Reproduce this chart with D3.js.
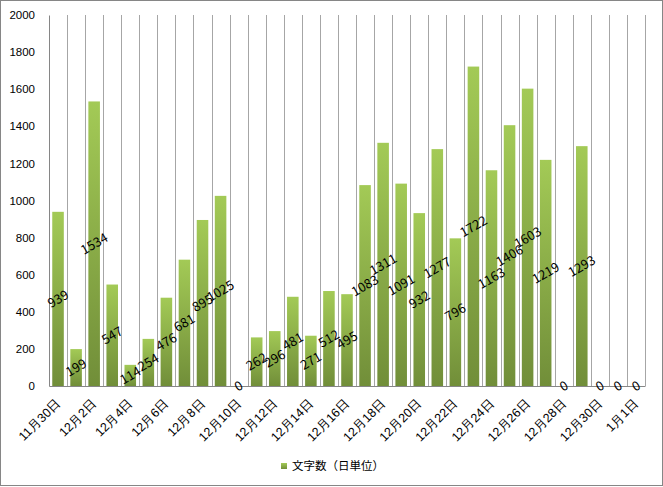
<!DOCTYPE html>
<html>
<head>
<meta charset="utf-8">
<script src="https://cdn.jsdelivr.net/npm/d3@7"></script>
<style>
  html, body { margin: 0; padding: 0; background: #fff; }
  svg { display: block; font-family: "Noto Sans CJK JP", "DejaVu Sans", sans-serif; }
</style>
</head>
<body>
<div id="chart"></div>
<script>
// categories (daily) and character counts
var days = ["11月30日","12月1日","12月2日","12月3日","12月4日","12月5日","12月6日","12月7日","12月8日","12月9日",
            "12月10日","12月11日","12月12日","12月13日","12月14日","12月15日","12月16日","12月17日","12月18日","12月19日",
            "12月20日","12月21日","12月22日","12月23日","12月24日","12月25日","12月26日","12月27日","12月28日","12月29日",
            "12月30日","12月31日","1月1日"];
var counts = [939,199,1534,547,114,254,476,681,895,1025,
              0,262,296,481,271,512,495,1083,1311,1091,
              932,1277,796,1722,1163,1406,1603,1219,0,1293,
              0,0,0];
var yTicks = [0,200,400,600,800,1000,1200,1400,1600,1800,2000];
var seriesName = "文字数（日単位）";

var width = 663, height = 487;
var margin = {top: 15, right: 18, bottom: 101, left: 49};
var innerW = width - margin.left - margin.right,
    innerH = height - margin.top - margin.bottom;

var svg = d3.select("#chart").append("svg")
    .attr("width", width)
    .attr("height", height);

// gradient for the bars
var defs = svg.append("defs");
var grad = defs.append("linearGradient")
    .attr("id", "barGrad")
    .attr("x1", 0).attr("y1", 0).attr("x2", 0).attr("y2", 1);
grad.append("stop").attr("offset", "0%").attr("stop-color", "#a3ca56");
grad.append("stop").attr("offset", "100%").attr("stop-color", "#718e39");

// outer border
svg.append("rect")
    .attr("x", 0.5).attr("y", 0.5)
    .attr("width", width - 1).attr("height", height - 2)
    .attr("fill", "none")
    .attr("stroke", "#868686");

var g = svg.append("g")
    .attr("transform", "translate(" + margin.left + "," + margin.top + ")");

var x = d3.scaleBand()
    .domain(days)
    .range([0, innerW])
    .padding(0);

var y = d3.scaleLinear()
    .domain([0, 2000])
    .range([innerH, 0]);

// vertical gridlines at category boundaries
var bounds = days.map(function(d) { return x(d) + x.bandwidth(); });
g.selectAll(".vgrid")
    .data(bounds)
    .enter().append("line")
    .attr("class", "vgrid")
    .attr("x1", function(d) { return Math.round(d) + 0.5; })
    .attr("x2", function(d) { return Math.round(d) + 0.5; })
    .attr("y1", 0)
    .attr("y2", innerH)
    .attr("stroke", "#a6a6a6")
    .attr("stroke-width", 1);

// bars
var barW = x.bandwidth() * 0.64;
g.selectAll(".bar")
    .data(counts)
    .enter().append("rect")
    .attr("class", "bar")
    .attr("x", function(d, i) { return x(days[i]) + (x.bandwidth() - barW) / 2; })
    .attr("y", function(d) { return y(d); })
    .attr("width", barW)
    .attr("height", function(d) { return innerH - y(d); })
    .attr("fill", "url(#barGrad)");

// y axis
var yAxis = g.append("g")
    .call(d3.axisLeft(y).tickValues(yTicks).tickFormat(d3.format("d")).tickSize(0).tickPadding(14));
yAxis.select(".domain").attr("stroke", "#868686");
yAxis.selectAll("text")
    .attr("font-size", "11.5px")
    .attr("fill", "#000");

// x axis
var xAxis = g.append("g")
    .attr("transform", "translate(0," + innerH + ")")
    .call(d3.axisBottom(x)
        .tickValues(days.filter(function(d, i) { return i % 2 === 0; }))
        .tickSize(0));
xAxis.select(".domain").attr("stroke", "#868686");
xAxis.selectAll("text")
    .attr("font-size", "12.5px")
    .attr("fill", "#000")
    .attr("text-anchor", "end")
    .attr("dy", "0.35em")
    .attr("transform", "translate(-2,13) rotate(-45)");

// data labels, centered in each bar, rotated
g.selectAll(".dlabel")
    .data(counts)
    .enter().append("text")
    .attr("class", "dlabel")
    .attr("transform", function(d, i) {
        var cx = x(days[i]) + x.bandwidth() / 2;
        var cy = (y(d) + y(0)) / 2;
        return "translate(" + cx + "," + cy + ") rotate(-30)";
    })
    .attr("text-anchor", "middle")
    .attr("dy", "0.35em")
    .attr("font-size", "13px")
    .attr("fill", "#000")
    .text(function(d) { return d; });

// legend
var legend = svg.append("g")
    .attr("transform", "translate(281,466)");
legend.append("rect")
    .attr("x", 0).attr("y", -3)
    .attr("width", 6).attr("height", 6)
    .attr("fill", "url(#barGrad)");
legend.append("text")
    .attr("x", 11)
    .attr("dy", "0.35em")
    .attr("font-size", "11.5px")
    .attr("fill", "#000")
    .text(seriesName);
</script>
</body>
</html>
